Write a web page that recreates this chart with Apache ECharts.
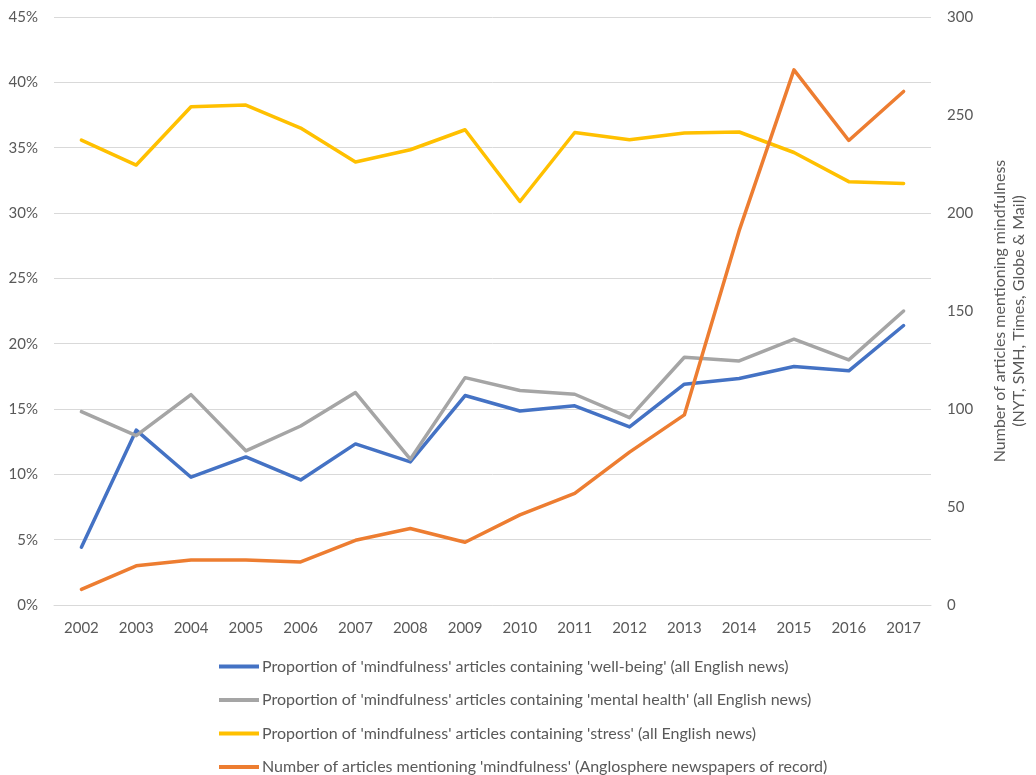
<!DOCTYPE html>
<html>
<head>
<meta charset="utf-8">
<script src="https://cdn.jsdelivr.net/npm/echarts@6/dist/echarts.min.js"></script>
<style>
html,body{margin:0;padding:0;background:#fff;}
#chart{width:1036px;height:775px;}
</style>
</head>
<body>
<div id="chart"></div>
<script>
const years = ['2002','2003','2004','2005','2006','2007','2008','2009','2010','2011','2012','2013','2014','2015','2016','2017'];
const wellBeing = [4.42,13.38,9.78,11.33,9.57,12.33,10.95,16.03,14.85,15.24,13.63,16.9,17.33,18.25,17.92,21.39];
const mentalHealth = [14.8,12.96,16.1,11.8,13.7,16.26,11.16,17.4,16.41,16.13,14.34,18.96,18.68,20.34,18.76,22.5];
const stress = [35.58,33.67,38.13,38.26,36.5,33.9,34.84,36.37,30.88,36.16,35.6,36.12,36.2,34.63,32.4,32.26];
const articleCount = [8,20,23,23,22,33,39,32,46,57,78,97,191,273,237,262];
const seriesNames = [
  "Proportion of 'mindfulness' articles containing 'well-being' (all English news)",
  "Proportion of 'mindfulness' articles containing 'mental health' (all English news)",
  "Proportion of 'mindfulness' articles containing 'stress' (all English news)",
  "Number of articles mentioning 'mindfulness' (Anglosphere newspapers of record)"
];
const colors = ['#4472C4','#A5A5A5','#FFC000','#ED7D31'];
const FONT = 'Lato';
const TXT = '#595959';

const chart = echarts.init(document.getElementById('chart'));
function mk(i, data, yIndex){
  return {
    name: seriesNames[i], type:'line', data: data, yAxisIndex: yIndex,
    symbol:'none', smooth:false,
    lineStyle:{width:3.5, color:colors[i], cap:'round', join:'round'},
    itemStyle:{color:colors[i]}
  };
}
chart.setOption({
  animation:false,
  textStyle:{fontFamily:FONT},
  color: colors,
  grid:{left:54, right:102, top:17, bottom:170, containLabel:false},
  legend:{
    orient:'vertical', left:219, top:657, height:150, itemGap:14.5, padding:0,
    icon:'rect', itemWidth:40, itemHeight:4,
    textStyle:{color:TXT, fontSize:16, lineHeight:19, fontFamily:FONT, padding:[0,0,0,-2]},
    data: seriesNames
  },
  xAxis:{
    type:'category', data: years, boundaryGap:true,
    axisLine:{show:true, lineStyle:{color:'#D9D9D9', width:1}},
    axisTick:{show:false},
    axisLabel:{color:TXT, fontSize:15, margin:16, fontFamily:FONT}
  },
  yAxis:[{
    type:'value', min:0, max:45, interval:5, position:'left',
    axisLine:{show:false}, axisTick:{show:false},
    axisLabel:{color:TXT, fontSize:15, margin:16, formatter:'{value}%', fontFamily:FONT},
    splitLine:{lineStyle:{color:'#D9D9D9', width:1}}
  },{
    type:'value', min:0, max:300, interval:50, position:'right',
    axisLine:{show:false}, axisTick:{show:false},
    axisLabel:{color:TXT, fontSize:15, margin:16, fontFamily:FONT},
    splitLine:{show:false},
    name:'Number of articles mentioning mindfulness\n(NYT, SMH, Times, Globe & Mail)',
    nameLocation:'middle', nameRotate:90, nameGap:59,
    nameTextStyle:{color:TXT, fontSize:16, lineHeight:19, fontFamily:FONT, align:'center'}
  }],
  series:[
    mk(0, wellBeing, 0),
    mk(1, mentalHealth, 0),
    mk(2, stress, 0),
    mk(3, articleCount, 1)
  ]
});
</script>
</body>
</html>
